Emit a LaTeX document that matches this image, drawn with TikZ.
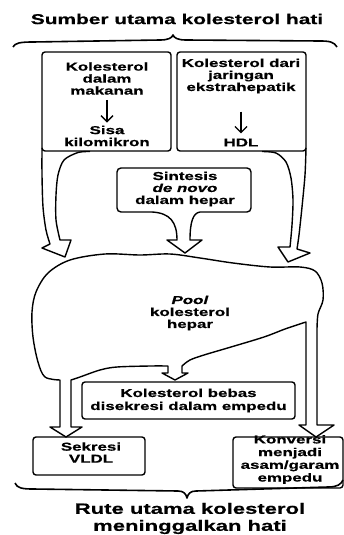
\documentclass[tikz,border=0pt]{standalone}
\usepackage{fontspec}
\setmainfont{Liberation Sans}[
  FakeStretch=1.47,
  UprightFont={Liberation Sans Bold},
  BoldFont={Liberation Sans Bold},
  ItalicFont={Liberation Sans Bold Italic},
  BoldItalicFont={Liberation Sans Bold Italic},
  FakeBold=0.6]
\usetikzlibrary{arrows.meta}
\tikzset{
  ln/.style={line width=1.4pt, line join=round},
  boxshape/.style={draw, ln, rounded corners=3pt, inner sep=0pt},
  txt/.style={font=\fontsize{11.5}{12}\selectfont, align=center, inner sep=0pt},
  bigtxt/.style={font=\fontsize{14.2}{17}\selectfont, align=center, inner sep=0pt},
  thinarr/.style={line width=1.3pt, -{Straight Barb[length=6pt,width=12pt,line width=1.3pt]}}
}
\begin{document}
\begin{tikzpicture}[x=1pt,y=-1pt]
\useasboundingbox (0,0) rectangle (344,535);
% title and top brace
\node[bigtxt] (title) at (177,19) {Sumber utama kolesterol hati};
\draw[ln, line width=1.6pt] (13,47) .. controls (15,43) and (20,42) .. (33,42) -- (160,40)
  .. controls (168,40) and (172,38) .. (173,35) .. controls (174,38) and (178,40) .. (186,40)
  -- (320,41) .. controls (330,41) and (334,42) .. (337,47);

% top boxes
\node[boxshape, minimum width=129pt, minimum height=99pt] (lbox) at (106.5,101.5) {};
\node[txt] (lt1) at (107,78.5) {Kolesterol\\dalam\\makanan};
\node[txt] (lt2) at (107,136) {Sisa\\kilomikron};
\draw[thinarr, shorten <=5pt, shorten >=3pt] (lt1) -- (lt2);

\node[boxshape, minimum width=129pt, minimum height=99pt] (rbox) at (241.5,101.5) {};
\node[txt] (rt1) at (241,76) {Kolesterol dari\\jaringan\\ekstrahepatik};
\node[txt] (rt2) at (241,142.5) {HDL};
\draw[thinarr, shorten <=18pt, shorten >=5pt] (rt1) -- (rt2);

% left hollow arrow
\draw[ln] plot[smooth] coordinates {(42,148) (42,175) (43,207) (46,230) (50,244)}
  -- (42,248) -- (65,257) -- (71,240)
  -- plot[smooth] coordinates {(60,240) (56,220) (56,195) (58,175) (64,160) (78,152.5) (90,151.5)};
% right hollow arrow
\draw[ln] plot[smooth] coordinates {(306,148) (305,175) (302,207) (299,235) (297,249)}
  -- (310,253) -- (288,262) -- (278,247)
  -- plot[smooth] coordinates {(290,247) (292,225) (293,200) (291,178) (286,162) (276,153) (262,151.5)};

% de novo synthesis box with funnel arrow
\node[txt] (syn) at (185,189) {Sintesis\\\textit{de novo}\\dalam hepar};
\draw[ln, rounded corners=4pt] (152,212) -- (117,212) -- (117,168) -- (251,168) -- (251,212) -- (200,212);
\draw[ln] (152,212) .. controls (170,213) and (177,222) .. (177,240) -- (167,240) -- (185,253)
  -- (202,240) -- (190,240) .. controls (190,222) and (193,213) .. (200,212);

% pool outline with outgoing hollow arrows
\draw[ln] plot[smooth, tension=0.55] coordinates {(60,380) (45,377) (38,362) (33,337) (32,312) (36,292)
   (48,273) (70,260) (105,254) (140,255) (170,254) (200,258) (233,263) (270,267) (300,267)
   (315,271) (322,283) (323,300) (318,314) (317,330)}
  -- (317,425) -- (334,425) -- (316,437) -- (299,425) -- (306,425)
  -- plot[smooth, tension=0.55] coordinates {(306,322) (285,329) (264,337) (231,347) (204,355) (190,360) (182,366)}
  -- (182,373) -- (188,373) -- (175,380) -- (162,373) -- (168,373)
  -- plot[smooth, tension=0.55] coordinates {(168,366) (150,366) (117,367) (100,370) (80,377) (71,380)}
  -- (71,427) -- (82,427) -- (66,437) -- (50,427) -- (60,427) -- cycle;
\node[txt] (pool) at (190,313) {\textit{Pool}\\kolesterol\\hepar};

% outgoing boxes
\node[boxshape, minimum width=213pt, minimum height=37pt, txt, font=\fontsize{11.5}{13}\selectfont] (free) at (188.5,400.5) {Kolesterol bebas\\disekresi dalam empedu};
\node[boxshape, minimum width=112pt, minimum height=38pt] (vldl) at (89,456) {};
\node[txt] (vldlt) at (91,452.5) {Sekresi\\VLDL};
\node[boxshape, minimum width=110pt, minimum height=51pt] (conv) at (288,462.5) {};
\node[txt, font=\fontsize{11.5}{12.7}\selectfont] (convt) at (290,459.5) {Konversi\\menjadi\\asam/garam\\empedu};

% bottom brace and caption
\draw[ln, line width=1.6pt] (15,483) .. controls (17,488) and (22,489) .. (33,489) -- (178,491)
  .. controls (184,491) and (186,494) .. (187,498) .. controls (188,494) and (190,491) .. (196,491)
  -- (328,487) .. controls (338,487) and (341,484) .. (343,480);
\node[bigtxt, font=\fontsize{15}{17}\selectfont] (foot) at (190,518.5) {Rute utama kolesterol\\meninggalkan hati};
\end{tikzpicture}
\end{document}
